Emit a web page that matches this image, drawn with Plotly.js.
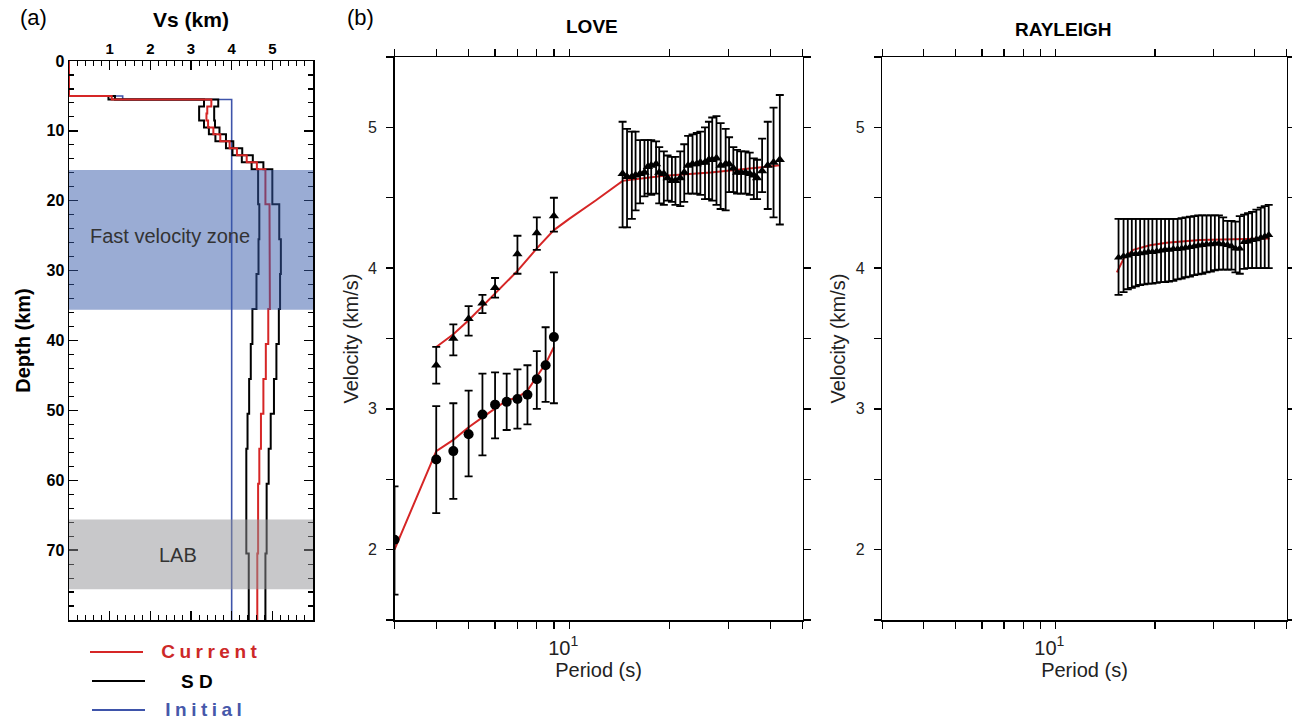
<!DOCTYPE html>
<html>
<head>
<meta charset="utf-8">
<script src="https://cdn.plot.ly/plotly-3.0.1.min.js"></script>
<style>
  html, body { margin: 0; padding: 0; background: #fff; }
  #chart { width: 1292px; height: 721px; }
  .annotation[data-index="6"] text, .annotation[data-index="8"] text { letter-spacing: 4.5px; }
</style>
</head>
<body>
<div id="chart"></div>
<script>
// ---------- Panel (a): Vs depth profiles ----------
const layerTop  = [0, 5, 5.5, 6.5, 7.5, 8.5, 9.5, 10.5, 11.5, 12.5, 13.5, 14.5, 15.5, 20.5, 25.5, 30.5, 35.5, 40.5, 45.5, 50.5, 55.5, 60.5, 70.5];
const maxDepth  = 80;
const vsCurrent = [0, 1.05, 3.50, 3.40, 3.38, 3.42, 3.55, 3.72, 3.95, 4.13, 4.37, 4.62, 4.83, 4.93, 4.93, 4.94, 4.90, 4.84, 4.78, 4.72, 4.68, 4.65, 4.63];
const vsSDlow   = [0, 0.97, 3.32, 3.20, 3.20, 3.32, 3.44, 3.60, 3.86, 4.02, 4.25, 4.49, 4.65, 4.68, 4.66, 4.61, 4.51, 4.47, 4.43, 4.39, 4.36, 4.36, 4.42];
const vsSDhigh  = [0, 1.13, 3.67, 3.57, 3.57, 3.59, 3.70, 3.86, 4.04, 4.26, 4.52, 4.78, 5.00, 5.17, 5.21, 5.19, 5.16, 5.10, 5.04, 4.96, 4.91, 4.86, 4.83];
const initTop   = [0, 5, 5.5];
const vsInitial = [0, 1.32, 4.0];
const depthTicks = [0, 10, 20, 30, 40, 50, 60, 70];
const vsTicks    = [1, 2, 3, 4, 5];
const fastZone = [15.6, 35.6];
const labZone  = [65.6, 75.6];

// ---------- Panel (b): LOVE ----------
const lovePhaseP  = [4, 4.5, 5, 5.5, 6, 7, 8, 9,
  14.45, 14.9, 15.4, 15.8, 16.3, 16.8, 17.2, 17.6, 18.2, 18.6, 19.2, 19.7, 20.3, 20.8, 21.5, 22.1, 22.7, 23.4, 24.1, 24.7,
  25.5, 26.2, 26.8, 27.6, 28.4, 29.4, 30.1, 31.0, 31.8, 32.7, 33.7, 34.7, 35.7, 36.5, 37.8, 39.3, 40.9, 42.7];
const lovePhaseV  = [3.31, 3.50, 3.64, 3.75, 3.86, 4.10, 4.25, 4.37,
  4.67, 4.65, 4.65, 4.66, 4.67, 4.68, 4.72, 4.73, 4.74, 4.68, 4.67, 4.64, 4.62, 4.62, 4.64, 4.68, 4.73, 4.74, 4.74, 4.75,
  4.75, 4.77, 4.77, 4.78, 4.73, 4.74, 4.74, 4.71, 4.68, 4.68, 4.68, 4.67, 4.66, 4.64, 4.69, 4.73, 4.75, 4.77];
const lovePhaseHi = [3.44, 3.60, 3.73, 3.81, 3.93, 4.23, 4.36, 4.50,
  5.04, 4.99, 4.97, 4.97, 4.91, 4.91, 4.91, 4.91, 4.90, 4.86, 4.83, 4.80, 4.79, 4.79, 4.83, 4.88, 4.94, 4.95, 4.96, 4.97,
  5.00, 5.04, 5.07, 5.08, 5.03, 4.99, 4.93, 4.86, 4.84, 4.83, 4.83, 4.82, 4.78, 4.77, 4.92, 5.04, 5.14, 5.23];
const lovePhaseLo = [3.18, 3.38, 3.52, 3.68, 3.79, 3.96, 4.13, 4.26,
  4.29, 4.29, 4.35, 4.41, 4.46, 4.51, 4.53, 4.52, 4.53, 4.46, 4.45, 4.48, 4.47, 4.45, 4.44, 4.47, 4.53, 4.53, 4.53, 4.52,
  4.49, 4.49, 4.48, 4.45, 4.42, 4.41, 4.54, 4.54, 4.53, 4.53, 4.53, 4.52, 4.49, 4.49, 4.54, 4.42, 4.36, 4.31];
const loveGroupP  = [3, 4, 4.5, 5, 5.5, 6, 6.5, 7, 7.5, 8, 8.5, 9];
const loveGroupV  = [2.07, 2.64, 2.70, 2.82, 2.96, 3.03, 3.05, 3.07, 3.10, 3.21, 3.31, 3.51];
const loveGroupHi = [2.45, 3.02, 3.04, 3.13, 3.25, 3.26, 3.25, 3.28, 3.31, 3.41, 3.58, 3.97];
const loveGroupLo = [1.68, 2.26, 2.36, 2.52, 2.67, 2.79, 2.85, 2.86, 2.89, 3.00, 3.05, 3.04];
const lovePhaseModelP = [4, 4.5, 5, 5.5, 6, 7, 8, 9, 10, 12, 14.45, 18.9, 26.5, 42.7];
const lovePhaseModelV = [3.44, 3.53, 3.63, 3.73, 3.82, 3.98, 4.14, 4.27, 4.35, 4.48, 4.62, 4.655, 4.68, 4.73];
const loveGroupModelP = [3, 4, 4.5, 5, 5.5, 6, 6.5, 7, 7.5, 8, 8.5, 9];
const loveGroupModelV = [2.00, 2.70, 2.78, 2.87, 2.94, 3.00, 3.06, 3.08, 3.13, 3.23, 3.32, 3.44];

// ---------- Panel (b): RAYLEIGH ----------
const rayP  = [15.52, 16.07, 16.55, 17.02, 17.50, 18.03, 18.58, 19.10, 19.64, 20.24, 20.86, 21.45, 22.05, 22.72, 23.41, 24.07, 24.75, 25.50, 26.28,
  27.02, 27.79, 28.63, 29.50, 30.33, 31.19, 32.14, 33.12, 34.05, 35.01, 36.07, 37.18, 38.22, 39.30, 40.50, 41.74, 42.91, 44.12];
const rayV  = [4.075, 4.085, 4.09, 4.10, 4.10, 4.105, 4.11, 4.115, 4.115, 4.12, 4.125, 4.13, 4.13, 4.135, 4.135, 4.14, 4.145, 4.15, 4.155,
  4.16, 4.165, 4.17, 4.17, 4.175, 4.175, 4.17, 4.165, 4.155, 4.14, 4.14, 4.185, 4.19, 4.20, 4.205, 4.215, 4.225, 4.235];
const rayHi = [4.35, 4.35, 4.35, 4.35, 4.35, 4.35, 4.35, 4.35, 4.35, 4.35, 4.35, 4.35, 4.35, 4.35, 4.35, 4.355, 4.36, 4.365, 4.37,
  4.375, 4.375, 4.375, 4.375, 4.375, 4.375, 4.36, 4.335, 4.335, 4.33, 4.37, 4.38, 4.39, 4.40, 4.415, 4.43, 4.44, 4.45];
const rayLo = [3.81, 3.83, 3.85, 3.86, 3.87, 3.88, 3.885, 3.89, 3.89, 3.895, 3.90, 3.90, 3.905, 3.91, 3.92, 3.925, 3.935, 3.94, 3.95,
  3.955, 3.96, 3.97, 3.975, 3.985, 3.99, 3.99, 3.99, 3.99, 3.97, 3.96, 3.995, 4.0, 4.0, 4.0, 4.0, 4.0, 4.0];
const rayModelP = [15.34, 16.1, 17.2, 19.3, 21.7, 27.3, 34.5, 44.4];
const rayModelV = [3.97, 4.07, 4.13, 4.163, 4.18, 4.20, 4.205, 4.21];

const periodTicks    = [10];
const periodTickText = ['10<sup>1</sup>'];
const velTicks = [2, 3, 4, 5];

// ---------- helpers ----------
const W = 1292, H = 721;
const px = x => x / W;
const py = y => 1 - y / H;
const FONT = 'Liberation Sans, Arial, sans-serif';
const RED = 'rgb(214,38,38)', BLUE = 'rgb(62,84,170)';

function steps(tops, bottom, vals) {
  const xs = [], ys = [];
  for (let i = 0; i < tops.length; i++) {
    xs.push(vals[i], vals[i]);
    ys.push(tops[i], i < tops.length - 1 ? tops[i + 1] : bottom);
  }
  return { x: xs, y: ys };
}
function errs(v, hi, lo) {
  return { type: 'data', symmetric: false,
    array: hi.map((h, i) => +(h - v[i]).toFixed(3)),
    arrayminus: lo.map((l, i) => +(v[i] - l).toFixed(3)),
    color: '#000', thickness: 1.8, width: 4 };
}

const sInit = steps(initTop, maxDepth, vsInitial);
const sLow  = steps(layerTop, maxDepth, vsSDlow);
const sHigh = steps(layerTop, maxDepth, vsSDhigh);
const sCur  = steps(layerTop, maxDepth, vsCurrent);

const traces = [
  { x: sInit.x, y: sInit.y, xaxis: 'x', yaxis: 'y', mode: 'lines', line: { color: BLUE, width: 1.6 }, name: 'Initial' },
  { x: sLow.x,  y: sLow.y,  xaxis: 'x', yaxis: 'y', mode: 'lines', line: { color: '#000', width: 2 }, name: 'SD low' },
  { x: sHigh.x, y: sHigh.y, xaxis: 'x', yaxis: 'y', mode: 'lines', line: { color: '#000', width: 2 }, name: 'SD high' },
  { x: sCur.x,  y: sCur.y,  xaxis: 'x', yaxis: 'y', mode: 'lines', line: { color: RED, width: 2 }, name: 'Current' },

  { x: lovePhaseModelP, y: lovePhaseModelV, xaxis: 'x2', yaxis: 'y2', mode: 'lines', line: { color: RED, width: 2 }, name: 'Love model 1' },
  { x: loveGroupModelP, y: loveGroupModelV, xaxis: 'x2', yaxis: 'y2', mode: 'lines', line: { color: RED, width: 2 }, name: 'Love model 2' },
  { x: lovePhaseP, y: lovePhaseV, xaxis: 'x2', yaxis: 'y2', mode: 'markers', name: 'Love (triangles)',
    marker: { symbol: 'triangle-up', size: 9, color: '#000' }, error_y: errs(lovePhaseV, lovePhaseHi, lovePhaseLo) },
  { x: loveGroupP, y: loveGroupV, xaxis: 'x2', yaxis: 'y2', mode: 'markers', name: 'Love (circles)',
    marker: { symbol: 'circle', size: 10, color: '#000' }, error_y: errs(loveGroupV, loveGroupHi, loveGroupLo) },

  { x: rayModelP, y: rayModelV, xaxis: 'x3', yaxis: 'y3', mode: 'lines', line: { color: RED, width: 2 }, name: 'Rayleigh model' },
  { x: rayP, y: rayV, xaxis: 'x3', yaxis: 'y3', mode: 'markers', name: 'Rayleigh',
    marker: { symbol: 'triangle-up', size: 8, color: '#000' }, error_y: errs(rayV, rayHi, rayLo) }
];

const axBase = { showline: true, linecolor: '#000', linewidth: 1.5, mirror: 'ticks', showgrid: false, zeroline: false,
  tickcolor: '#000', tickwidth: 1.3, fixedrange: true };

const logRange = [Math.log10(3), Math.log10(50)];
const periodAxis = (dom, anchor) => Object.assign({}, axBase, {
  type: 'log', domain: dom, range: logRange, anchor: anchor,
  tickmode: 'array', tickvals: periodTicks, ticktext: periodTickText,
  ticks: 'outside', ticklen: 7, ticklabelshift: -6, ticklabelstandoff: 2,
  minor: { dtick: 'D1', ticks: 'outside', ticklen: 7, tickwidth: 1.3, tickcolor: '#000', showgrid: false },
  tickfont: { family: FONT, size: 20, color: '#222' },
  title: { text: 'Period (s)', font: { family: FONT, size: 20, color: '#222' }, standoff: 0 }
});
const velAxis = (anchor) => Object.assign({}, axBase, {
  domain: [py(620), py(57)], range: [1.5, 5.5], anchor: anchor,
  tickmode: 'array', tickvals: velTicks, ticks: 'outside', ticklen: 7, ticklabelstandoff: 6,
  minor: { tick0: 0, dtick: 0.5, ticks: 'outside', ticklen: 7, tickwidth: 1.3, tickcolor: '#000' },
  tickfont: { family: FONT, size: 16, color: '#222' },
  title: { text: 'Velocity (km/s)', font: { family: FONT, size: 20, color: '#222' }, standoff: 4 }
});

const ann = (text, x, y, font) => ({ text, xref: 'paper', yref: 'paper', x: px(x), y: py(y),
  xanchor: 'center', yanchor: 'middle', showarrow: false, font: Object.assign({ family: FONT }, font) });

const layout = {
  width: W, height: H, margin: { l: 0, r: 0, t: 0, b: 0 },
  paper_bgcolor: '#fff', plot_bgcolor: '#fff', showlegend: false,
  font: { family: FONT, color: '#000' },
  xaxis: Object.assign({}, axBase, {
    domain: [px(69), px(313)], range: [0, 6], side: 'top', anchor: 'y',
    tickmode: 'array', tickvals: vsTicks, ticks: 'inside', ticklen: 9,
    minor: { tick0: 0, dtick: 0.2, ticks: 'inside', ticklen: 5, tickwidth: 1.1, tickcolor: '#000' },
    tickfont: { family: FONT, size: 15, weight: 'bold', color: '#000' },
    title: { text: 'Vs (km)', font: { family: FONT, size: 21, weight: 'bold', color: '#000' }, standoff: 6 }
  }),
  yaxis: Object.assign({}, axBase, {
    domain: [py(620), py(61)], range: [maxDepth, 0], anchor: 'x',
    tickmode: 'array', tickvals: depthTicks, ticks: 'inside', ticklen: 9,
    minor: { tick0: 0, dtick: 2, ticks: 'inside', ticklen: 5, tickwidth: 1.1, tickcolor: '#000' },
    tickfont: { family: FONT, size: 16, weight: 'bold', color: '#000' },
    title: { text: 'Depth (km)', font: { family: FONT, size: 20, weight: 'bold', color: '#000' }, standoff: 10 }
  }),
  xaxis2: periodAxis([px(394.5), px(802.7)], 'y2'),
  yaxis2: velAxis('x2'),
  xaxis3: periodAxis([px(882.3), px(1286.7)], 'y3'),
  yaxis3: velAxis('x3'),
  shapes: [
    { type: 'rect', xref: 'x domain', yref: 'y', x0: 0, x1: 1, y0: fastZone[0], y1: fastZone[1],
      fillcolor: 'rgb(53,89,169)', opacity: 0.5, line: { width: 0 }, layer: 'above' },
    { type: 'rect', xref: 'x domain', yref: 'y', x0: 0, x1: 1, y0: labZone[0], y1: labZone[1],
      fillcolor: 'rgb(145,145,149)', opacity: 0.5, line: { width: 0 }, layer: 'above' },
    { type: 'line', xref: 'paper', yref: 'paper', x0: px(90), x1: px(143), y0: py(652), y1: py(652), line: { color: RED, width: 2 } },
    { type: 'line', xref: 'paper', yref: 'paper', x0: px(92), x1: px(145), y0: py(681), y1: py(681), line: { color: '#000', width: 2 } },
    { type: 'line', xref: 'paper', yref: 'paper', x0: px(92), x1: px(145), y0: py(710), y1: py(710), line: { color: BLUE, width: 2 } }
  ],
  annotations: [
    ann('(a)', 33, 18, { size: 22, color: '#000' }),
    ann('(b)', 360, 18, { size: 22, color: '#000' }),
    ann('LOVE', 592, 27, { size: 19, weight: 'bold', color: '#000' }),
    ann('RAYLEIGH', 1063, 30, { size: 19, weight: 'bold', color: '#000' }),
    { text: 'Fast velocity zone', xref: 'x', yref: 'y', x: 2.48, y: 25.1, xanchor: 'center', yanchor: 'middle', showarrow: false, font: { family: FONT, size: 20, color: '#333' } },
    { text: 'LAB', xref: 'x', yref: 'y', x: 2.68, y: 70.7, xanchor: 'center', yanchor: 'middle', showarrow: false, font: { family: FONT, size: 20, color: '#333' } },
    ann('Current', 211, 651, { size: 19, weight: 'bold', color: 'rgb(205,40,40)' }),
    ann('S D', 197, 681, { size: 19, weight: 'bold', color: '#000' }),
    ann('Initial', 206, 709.5, { size: 19, weight: 'bold', color: 'rgb(70,88,170)' })
  ]
};

Plotly.newPlot('chart', traces, layout, { displayModeBar: false, staticPlot: true });
</script>
</body>
</html>
